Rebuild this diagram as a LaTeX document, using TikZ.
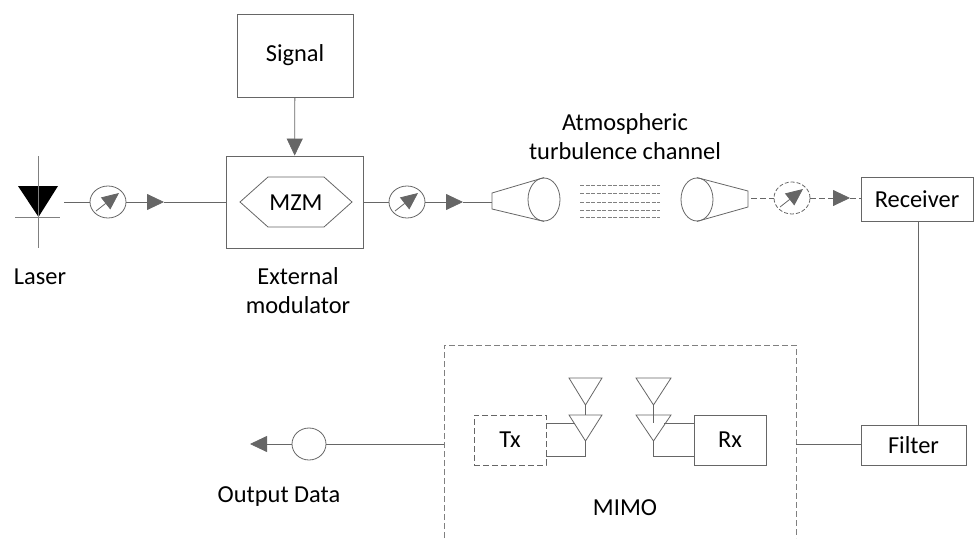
\documentclass[tikz,border=0pt]{standalone}
\usepackage{fontspec}
\setmainfont{Carlito}
\usetikzlibrary{arrows.meta,shapes.geometric}
\definecolor{linegray}{HTML}{666666}
\tikzset{
  every node/.style={font=\fontsize{24.4}{29}\selectfont,align=center},
  wire/.style={draw=linegray,line width=0.8pt},
  dashwire/.style={wire,dash pattern=on 6pt off 3pt},
  head/.style={wire,-{Triangle[length=17pt,width=16pt,fill=linegray]}},
  block/.style={wire,rectangle,inner sep=0pt},
  attenuator/.style={wire,ellipse,inner sep=0pt,minimum width=36pt,minimum height=32pt},
  lens/.style={wire,ellipse,inner sep=0pt,minimum width=32pt,minimum height=43pt}
}
\begin{document}
\begin{tikzpicture}[x=1pt,y=-1pt]
    \useasboundingbox (0,0) rectangle (974,538);
    % Blocks
    \node [block,minimum width=116pt,minimum height=83pt] (signal) at (295,55.5) {Signal};
    \node [block,minimum width=137pt,minimum height=92pt] (modulator) at (294.5,202) {};
    \node [block,minimum width=112pt,minimum height=44pt] (receiver) at (917,199) {Receiver};
    \node [block,minimum width=105pt,minimum height=40pt] (filter) at (913.5,445) {Filter};
    \node [block,dash pattern=on 6pt off 3pt,minimum width=72pt,minimum height=50pt] (tx) at (510,440) {Tx};
    \node [block,minimum width=72pt,minimum height=50pt] (rx) at (730,440) {Rx};
    % Laser
    \coordinate (lasertop) at (38.5,156);
    \coordinate (laserbottom) at (38.5,248);
    \fill (18,186) -- (58,186) -- (38.5,217) -- cycle;
    \draw [wire,gray] (lasertop) -- (laserbottom);
    \draw [wire,gray] (15,217) -- (60,217);
    \coordinate (laserout) at (64,202);
    % Attenuators
    \node [attenuator] (atta) at (108,202) {};
    \node [attenuator] (attb) at (407,202) {};
    \node [attenuator,dash pattern=on 4pt off 2pt] (attc) at (792,198) {};
    \foreach \att in {atta,attb,attc} {
        \draw [wire,-{Triangle[length=17pt,width=15pt,fill=linegray]}] ([shift={(-12,9)}]\att.center) -- ([shift={(11,-9)}]\att.center);
    }
    % MZM
    \node (mzm) at (296,203) {MZM};
    \draw [wire] (240,202) -- (268,177) -- (324,177) -- (352,202) -- (324,227) -- (268,227) -- cycle;
    % Lenses
    \node [lens] (lensa) at (544,199.5) {};
    \node [lens] (lensb) at (697,199.5) {};
    \coordinate (conea) at (492,202);
    \coordinate (coneb) at (748,198);
    \draw [wire] (lensa.north) -- (492,193) -- (492,209) -- (lensa.south);
    \draw [wire] (lensb.north) -- (748,191) -- (748,207) -- (lensb.south);
    % Channel
    \foreach \y in {185,193,202,210,217} {
        \draw [wire,line width=0.7pt,gray,dash pattern=on 4pt off 1.5pt] (580,\y) -- (660,\y);
    }
    % Connectors
    \draw [wire] (laserout) -- (atta);
    \coordinate (heada) at (164,202);
    \draw [head] (atta) -- (heada);
    \draw [wire] (heada) -- (modulator.west);
    \draw [head] (signal) -- (modulator);
    \draw [wire] (modulator.east) -- (attb);
    \coordinate (headb) at (463,202);
    \draw [head] (attb) -- (headb);
    \draw [wire] (headb) -- (conea);
    \draw [dashwire] (751,198) -- (attc);
    \coordinate (headc) at (850,198);
    \draw [head,dash pattern=on 6pt off 3pt] (attc) -- (headc);
    \draw [dashwire] (headc) -- (receiver.west |- headc);
    \draw [wire] (receiver.south -| 918,0) -- (filter.north -| 918,0);
    % MIMO
    \coordinate (mimola) at (444,538);
    \coordinate (mimolb) at (444,345);
    \coordinate (mimora) at (796,345);
    \coordinate (mimorb) at (796,538);
    \draw [dashwire,draw=gray] (mimola) -- (mimolb) -- (mimora) -- (mimorb);
    \draw [wire] (filter.west |- 0,444) -- (796,444);
    \draw [wire] (569,378) -- (602,378) -- (585.5,405) -- cycle;
    \draw [wire] (569,415) -- (602,415) -- (585.5,441) -- cycle;
    \draw [wire] (636,378) -- (671,378) -- (653.5,405) -- cycle;
    \draw [wire] (636,415) -- (671,415) -- (653.5,441) -- cycle;
    \draw [wire] (585.5,405) -- (585.5,415);
    \draw [wire] (653.5,405) -- (653.5,423);
    \draw [wire] (tx.east |- 0,423) -- (575,423);
    \draw [wire] (tx.east |- 0,456) -- (585.5,456) -- (585.5,441);
    \draw [wire] (rx.west |- 0,423) -- (664,423);
    \draw [wire] (rx.west |- 0,456) -- (653.5,456) -- (653.5,441);
    % Output
    \node [wire,ellipse,inner sep=0pt,minimum width=34pt,minimum height=32pt] (output) at (309,444) {};
    \coordinate (outhead) at (250,444);
    \draw [wire] (444,444) -- (output);
    \draw [head] (output) -- (outhead);
    % Labels
    \node (laser) at (40,277) {Laser};
    \node (external) at (298,291) {External\\modulator};
    \node (channel) at (625,137) {Atmospheric\\turbulence channel};
    \node (outdata) at (279,497) {Output Data};
    \node (mimo) at (625,508) {MIMO};
\end{tikzpicture}
\end{document}
